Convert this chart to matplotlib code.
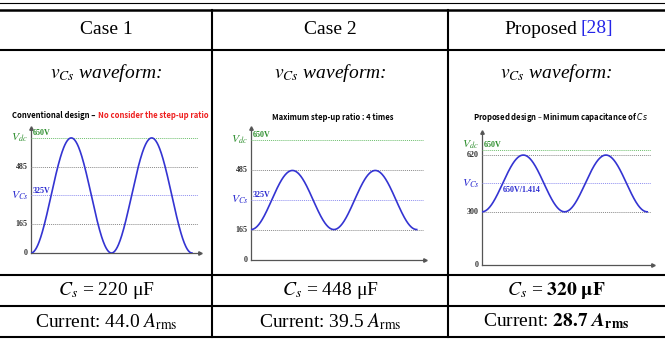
import numpy as np
import matplotlib.pyplot as plt
from matplotlib.lines import Line2D

# table content
cases = ['Case 1', 'Case 2', 'Proposed']
ref_tag = '[28]'
cap_uF = ['220', '448', '320']
current_rms = ['44.0', '39.5', '28.7']

# waveform values (V)
vdc = 650
vcs_mean = [325, 325, 460]
vcs_amp = [325, 160, 160]
vcs_labels = ['325V', '325V', '650V/1.414']
level_ticks = [[0, 165, 485], [0, 165, 485], [0, 300, 620]]
n_periods = 2

W, H = 665, 347
plt.rcParams['font.family'] = 'serif'
plt.rcParams['font.serif'] = ['Liberation Serif', 'DejaVu Serif']
plt.rcParams['mathtext.fontset'] = 'stix'

fig = plt.figure(figsize=(W / 100, H / 100), dpi=100)


def fx(x):
    return x / W


def fy(y):
    return 1 - y / H


def hline(y, lw):
    fig.add_artist(Line2D([0, 1], [fy(y), fy(y)], color='k', lw=lw))


def vline(x, y0, y1, lw):
    fig.add_artist(Line2D([fx(x), fx(x)], [fy(y0), fy(y1)], color='k', lw=lw))


# table rules
hline(2.5, 0.8)
hline(9.5, 1.8)
for y in [50, 275, 306, 337]:
    hline(y, 1.5)
for x in [212, 448]:
    vline(x, 9.5, 337, 1.5)

col_c = [106, 330, 556.5]
row_head, row_wave, row_cs, row_cur = 29, 73, 290.5, 321.5
fs = 14

for i, c in enumerate(cases):
    if i < 2:
        fig.text(fx(col_c[i]), fy(row_head), c, ha='center', va='center', fontsize=fs)
    else:
        fig.text(fx(577), fy(row_head), c, ha='right', va='center', fontsize=fs)
        fig.text(fx(581), fy(row_head), ref_tag, ha='left', va='center',
                 fontsize=fs, color='#2525e8')
    fig.text(fx(col_c[i]), fy(row_wave), r'$v_{Cs}$ waveform:', ha='center',
             va='center', fontsize=fs, style='italic')
    if i < 2:
        cs_txt = r'$C_s$ = ' + cap_uF[i] + ' μF'
        cur_txt = 'Current: ' + current_rms[i] + r' $A_{\mathrm{rms}}$'
    else:
        cs_txt = r'$C_s$ = $\mathbf{' + cap_uF[i] + r'\ μF}$'
        cur_txt = r'Current: $\mathbf{' + current_rms[i] + r'}\ \boldsymbol{A}_{\mathbf{rms}}$'
    fig.text(fx(col_c[i]), fy(row_cs), cs_txt, ha='center', va='center', fontsize=fs)
    fig.text(fx(col_c[i]), fy(row_cur), cur_txt, ha='center', va='center', fontsize=fs)

# embedded waveform sketches
boxes = [(31, 128, 200, 253), (251, 128, 425, 260), (482, 132, 653, 265)]
ymax = [706, 715, 750]
xmax = [2.1, 2.1, 2.07]
xend = [2.07, 2.07, 2.05]
vdc_lift = [0, 0, 3.5]

green, gtxt = '#6cbf6c', '#2f8f2f'
blue_l, btxt = '#8f8ff0', '#2b2bd0'
grey = '#8a8a8a'
axc = '#555555'
dot = (0, (1, 1))
small = dict(fontsize=5.8, fontweight='bold')

for i, (l, t, r, b) in enumerate(boxes):
    ax = fig.add_axes([fx(l), fy(b), (r - l) / W, (b - t) / H])
    ax.set_xlim(0, xmax[i])
    ax.set_ylim(0, ymax[i])
    ax.axis('off')

    ax.plot([0, 0], [0, ymax[i]], color=axc, lw=0.9, clip_on=False)
    ax.plot([0, xmax[i]], [0, 0], color=axc, lw=0.9, clip_on=False)
    ax.plot(0, ymax[i], marker='^', ms=2.5, color=axc, clip_on=False)
    ax.plot(xmax[i], 0, marker='>', ms=2.5, color=axc, clip_on=False)

    for v in level_ticks[i]:
        if v > 0:
            ax.plot([0, xend[i]], [v, v], ls=dot, color=grey, lw=0.7)
        ax.annotate(str(v), (0, v), xytext=(-2.5, 0), textcoords='offset points',
                    ha='right', va='center', color='#333333', **small)

    ax.plot([0, xend[i]], [vdc, vdc], ls=dot, color=green, lw=0.7)
    ax.annotate(r'$V_{dc}$', (0, vdc), xytext=(-2, vdc_lift[i]), textcoords='offset points',
                ha='right', va='center', color=gtxt, fontsize=8.5)
    ax.annotate('650V', (0, vdc), xytext=(1.5, 0.5), textcoords='offset points',
                ha='left', va='bottom', color=gtxt, **small)

    ax.plot([0, xend[i]], [vcs_mean[i], vcs_mean[i]], ls=dot, color=blue_l, lw=0.7)
    ax.annotate(r'$V_{Cs}$', (0, vcs_mean[i]), xytext=(-2, 0), textcoords='offset points',
                ha='right', va='center', color=btxt, fontsize=8.5)
    if i < 2:
        ax.annotate(vcs_labels[i], (0, vcs_mean[i]), xytext=(1.5, 0.5),
                    textcoords='offset points', ha='left', va='bottom', color=btxt, **small)
    else:
        ax.annotate(vcs_labels[i], (0, vcs_mean[i]), xytext=(15, -1.5),
                    textcoords='offset points', ha='left', va='top', color=btxt, **small)

    tt = np.linspace(0, n_periods, 400)
    ax.plot(tt, vcs_mean[i] - vcs_amp[i] * np.cos(2 * np.pi * tt), color='#3434d2', lw=1.2)

# sketch titles
tfont = dict(family='Noto Sans CJK KR', fontsize=5.5, fontweight='bold', va='center')
fig.text(fx(97), fy(115), 'Conventional design – ', ha='right', **tfont)
fig.text(fx(98), fy(115), 'No consider the step-up ratio', ha='left', color='#ee1c1c', **tfont)
fig.text(fx(333), fy(118), 'Maximum step-up ratio : 4 times', ha='center', **tfont)
fig.text(fx(561), fy(118), r'Proposed design – Minimum capacitance of $\mathit{Cs}$',
         ha='center', math_fontfamily='dejavusans', **tfont)

fig.savefig('out.png', dpi=100)
